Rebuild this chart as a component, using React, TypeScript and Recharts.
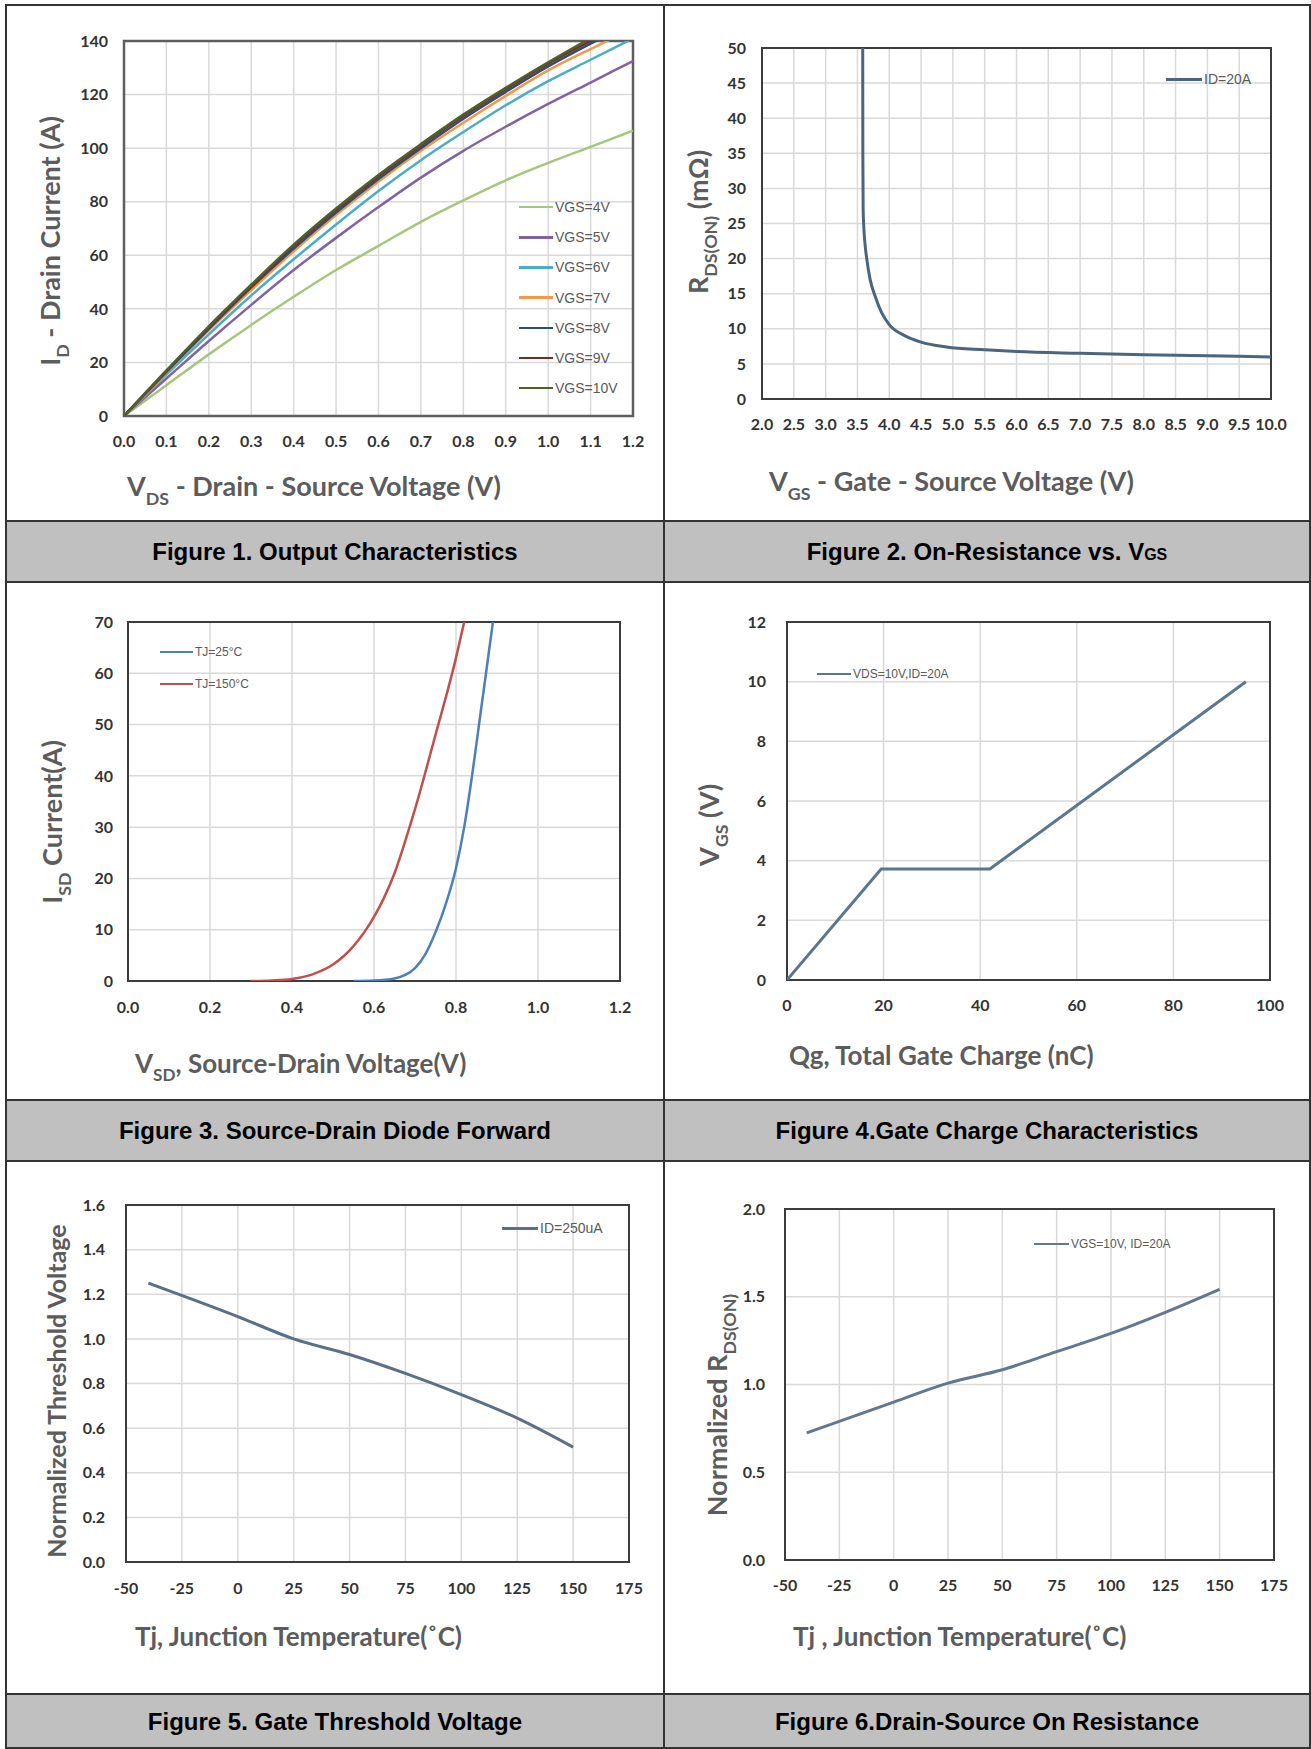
import React from 'react';
import { LineChart, Line, XAxis, YAxis, CartesianGrid, ReferenceArea, Legend } from 'recharts';

// ---------------- Figure 1: Output Characteristics ----------------
const fig1Vds = [0, 0.1, 0.2, 0.3, 0.4, 0.5, 0.6, 0.7, 0.8, 0.9, 1.0, 1.1, 1.2];
const fig1Id4 = [0, 11.5, 23, 34, 44.5, 54.5, 63.5, 72.5, 80.5, 88, 94.5, 100.5, 106.5];
const fig1Id5 = [0, 14, 28, 41.5, 54.5, 66.5, 78, 89, 99, 108, 116.5, 124.5, 132.5];
const fig1Id6 = [0, 15.5, 30.5, 45, 58.5, 71.5, 84, 95.5, 106, 116, 125, 133, 141];
const fig1Id7 = [0, 16.2, 32, 47, 61.5, 75, 87.5, 99, 109.5, 119.5, 129, 137, 144.5];
const fig1Id8 = [0, 16.5, 32.5, 48, 62.5, 76, 88.5, 100, 111, 121, 130.5, 139, 147];
const fig1Id9 = [0, 16.8, 33, 48.5, 63.5, 77, 89.5, 101, 112, 122, 131.5, 140, 148];
const fig1Id10 = [0, 17, 33.5, 49, 64, 77.5, 90, 101.5, 112.5, 122.5, 132, 141, 149];
const fig1Names = ['VGS=4V', 'VGS=5V', 'VGS=6V', 'VGS=7V', 'VGS=8V', 'VGS=9V', 'VGS=10V'];
const fig1Colors = ['#a9c47c', '#8064a2', '#4bacc6', '#f79646', '#2c4d75', '#772c2a', '#4f5f2a'];
const fig1XTicks = [0, 0.1, 0.2, 0.3, 0.4, 0.5, 0.6, 0.7, 0.8, 0.9, 1.0, 1.1, 1.2];
const fig1YTicks = [0, 20, 40, 60, 80, 100, 120, 140];

// ---------------- Figure 2: On-Resistance vs VGS ----------------
const fig2Vgs = [3.583, 3.585, 3.59, 3.6, 3.62, 3.646, 3.7, 3.78, 3.88, 4.0, 4.25, 4.5, 4.9, 5.5, 6.0, 7.0, 8.0, 9.0, 10.0];
const fig2Rds = [50, 35, 27, 24.5, 22, 20, 17, 14.6, 12.3, 10.6, 9.0, 8.1, 7.4, 7.0, 6.75, 6.5, 6.3, 6.15, 6.0];
const fig2Name = 'ID=20A';
const fig2Color = '#4a6580';
const fig2XTicks = [2, 2.5, 3, 3.5, 4, 4.5, 5, 5.5, 6, 6.5, 7, 7.5, 8, 8.5, 9, 9.5, 10];
const fig2YTicks = [0, 5, 10, 15, 20, 25, 30, 35, 40, 45, 50];

// ---------------- Figure 3: Source-Drain Diode Forward ----------------
const fig3Vsd25 = [0.55, 0.6, 0.65, 0.7, 0.725, 0.75, 0.775, 0.8, 0.82, 0.84, 0.857, 0.874, 0.89];
const fig3Isd25 = [0, 0.1, 0.5, 2.5, 5.2, 9.5, 15, 22, 30, 40.5, 50.5, 60.5, 70];
const fig3Vsd150 = [0.3, 0.35, 0.4, 0.45, 0.5, 0.55, 0.6, 0.625, 0.65, 0.675, 0.7, 0.75, 0.8, 0.82];
const fig3Isd150 = [0, 0.1, 0.4, 1.3, 3.2, 6.8, 12.5, 16.3, 21, 27, 33.5, 48, 63, 70];
const fig3Names = ['TJ=25\u00B0C', 'TJ=150\u00B0C'];
const fig3Colors = ['#4f7fb8', '#c0504d'];
const fig3XTicks = [0, 0.2, 0.4, 0.6, 0.8, 1.0, 1.2];
const fig3YTicks = [0, 10, 20, 30, 40, 50, 60, 70];

// ---------------- Figure 4: Gate Charge ----------------
const fig4Qg = [0, 19.5, 42, 95];
const fig4Vgs = [0, 3.72, 3.72, 10];
const fig4Name = 'VDS=10V,ID=20A';
const fig4Color = '#5b778f';
const fig4XTicks = [0, 20, 40, 60, 80, 100];
const fig4YTicks = [0, 2, 4, 6, 8, 10, 12];

// ---------------- Figure 5: Gate Threshold Voltage ----------------
const fig5Tj = [-40, 0, 25, 50, 75, 100, 125, 150];
const fig5Vth = [1.25, 1.1, 1.0, 0.93, 0.845, 0.75, 0.645, 0.515];
const fig5Name = 'ID=250uA';
const fig5Color = '#5a7088';
const fig5XTicks = [-50, -25, 0, 25, 50, 75, 100, 125, 150, 175];
const fig5YTicks = [0, 0.2, 0.4, 0.6, 0.8, 1.0, 1.2, 1.4, 1.6];

// ---------------- Figure 6: Drain-Source On Resistance ----------------
const fig6Tj = [-40, 0, 25, 50, 75, 100, 125, 150];
const fig6Rds = [0.724, 0.9, 1.008, 1.084, 1.187, 1.291, 1.411, 1.542];
const fig6Name = 'VGS=10V, ID=20A';
const fig6Color = '#62788e';
const fig6XTicks = [-50, -25, 0, 25, 50, 75, 100, 125, 150, 175];
const fig6YTicks = [0, 0.5, 1.0, 1.5, 2.0];

// ---------------- data tables ----------------
const fig1Data = fig1Vds.map((x, i) => ({
  x, id4: fig1Id4[i], id5: fig1Id5[i], id6: fig1Id6[i], id7: fig1Id7[i],
  id8: fig1Id8[i], id9: fig1Id9[i], id10: fig1Id10[i],
}));
const fig1Keys = ['id4', 'id5', 'id6', 'id7', 'id8', 'id9', 'id10'];
const fig2Data = fig2Vgs.map((x, i) => ({ x, y: fig2Rds[i] }));
const fig3Data25 = fig3Vsd25.map((x, i) => ({ x, y: fig3Isd25[i] }));
const fig3Data150 = fig3Vsd150.map((x, i) => ({ x, y: fig3Isd150[i] }));
const fig4Data = fig4Qg.map((x, i) => ({ x, y: fig4Vgs[i] }));
const fig5Data = fig5Tj.map((x, i) => ({ x, y: fig5Vth[i] }));
const fig6Data = fig6Tj.map((x, i) => ({ x, y: fig6Rds[i] }));

// ---------------- layout ----------------
type Cell = { x: number; y: number; w: number; h: number };
type Plot = { L: number; T: number; R: number; B: number };
const YW = 50;
const XH = 40;
const C1: Cell = { x: 6, y: 5, w: 658, h: 516 };
const C2: Cell = { x: 664, y: 5, w: 646, h: 516 };
const C3: Cell = { x: 6, y: 582, w: 658, h: 518 };
const C4: Cell = { x: 664, y: 582, w: 646, h: 518 };
const C5: Cell = { x: 6, y: 1161, w: 658, h: 533 };
const C6: Cell = { x: 664, y: 1161, w: 646, h: 533 };
const P1: Plot = { L: 124, T: 41, R: 633, B: 416 };
const P2: Plot = { L: 762, T: 48, R: 1271, B: 399 };
const P3: Plot = { L: 128, T: 622, R: 620, B: 981 };
const P4: Plot = { L: 787, T: 622, R: 1270, B: 980 };
const P5: Plot = { L: 126, T: 1205, R: 629, B: 1562 };
const P6: Plot = { L: 785, T: 1209, R: 1274, B: 1560 };

const marginsFor = (c: Cell, p: Plot) => ({
  left: p.L - c.x - YW,
  top: p.T - c.y,
  right: c.x + c.w - p.R,
  bottom: c.y + c.h - p.B - XH,
});

const tickFont = { fill: '#333333', fontSize: 16, fontFamily: 'Lato, "DejaVu Sans", sans-serif', fontWeight: 700 };
const GRID = '#d9d9d9';
const BORDER = '#3c3c3c';
const TITLE_COLOR = '#5c5c5c';

const fmt1 = (v: number) => v.toFixed(1);
const fmt0 = (v: number) => String(v);

function xAxisEl(domain: number[], ticks: number[], f: (v: number) => string, tm: number) {
  return (
    <XAxis key="xa" type="number" dataKey="x" domain={domain} ticks={ticks} interval={0} allowDataOverflow
      height={XH} tickLine={false} axisLine={false} tickSize={0} tickMargin={tm} tick={tickFont} tickFormatter={f} />
  );
}
function yAxisEl(domain: number[], ticks: number[], f: (v: number) => string, tm: number) {
  return (
    <YAxis key="ya" type="number" domain={domain} ticks={ticks} interval={0} allowDataOverflow
      width={YW} tickLine={false} axisLine={false} tickSize={0} tickMargin={tm} tick={tickFont} tickFormatter={f} />
  );
}
function gridEl() {
  return <CartesianGrid key="grid" stroke={GRID} strokeWidth={1.5} />;
}
function borderEl(xd: number[], yd: number[], color = BORDER, w = 2) {
  return <ReferenceArea key="border" x1={xd[0]} x2={xd[1]} y1={yd[0]} y2={yd[1]} fill="none" fillOpacity={0} stroke={color} strokeWidth={w} ifOverflow="visible" />;
}

type LegendItem = { name: string; color: string };
type LegendGeo = { x: number; top: number; rowH: number; lineLen: number; gap: number; fontSize: number; lineW: number };
function legendEl(cell: Cell, geo: LegendGeo, items: LegendItem[]) {
  const content = () => (
    <div>
      {items.map((e, i) => (
        <div key={i} style={{ display: 'flex', alignItems: 'center', height: geo.rowH }}>
          <div style={{ width: geo.lineLen, height: geo.lineW, background: e.color }} />
          <span style={{ marginLeft: geo.gap, fontSize: geo.fontSize, lineHeight: 1, color: '#5a5a5a', fontFamily: '"Liberation Sans", Arial, sans-serif', whiteSpace: 'nowrap' }}>{e.name}</span>
        </div>
      ))}
    </div>
  );
  return (
    <Legend key="legend" layout="vertical" align="center" verticalAlign="middle" content={content}
      wrapperStyle={{ left: geo.x - cell.x, top: geo.top - cell.y, width: 240, height: 'auto', margin: 0 }} />
  );
}

type Part = { t: string; sub?: boolean };
function AxisTitle({ cell, x, y, parts, size, vertical }: { cell: Cell; x: number; y: number; parts: Part[]; size: number; vertical?: boolean }) {
  const cx = x - cell.x;
  const cy = y - cell.y;
  const off = size * 0.3;
  let shifted = false;
  const spans = parts.map((p, i) => {
    let dy = 0;
    if (p.sub && !shifted) { dy = off; shifted = true; }
    else if (!p.sub && shifted) { dy = -off; shifted = false; }
    return <tspan key={i} dy={dy} fontSize={p.sub ? size * 0.66 : size}>{p.t}</tspan>;
  });
  const by = cy + size * 0.35;
  return (
    <text x={cx} y={by} textAnchor={vertical ? 'middle' : 'start'} fill={TITLE_COLOR}
      fontFamily='Lato, "DejaVu Sans", sans-serif' fontWeight={700} fontSize={size}
      transform={vertical ? `rotate(-90 ${cx} ${cy})` : undefined}>
      {spans}
    </text>
  );
}

function Fig1() {
  const c = C1;
  return (
    <div style={{ position: 'absolute', left: c.x, top: c.y }}>
      <LineChart width={c.w} height={c.h} data={fig1Data} margin={marginsFor(c, P1)}>
        {gridEl()}
        {xAxisEl([0, 1.2], fig1XTicks, fmt1, 20)}
        {yAxisEl([0, 140], fig1YTicks, fmt0, 16)}
        {borderEl([0, 1.2], [0, 140], '#5e5e5e', 2.5)}
        {fig1Keys.map((k, i) => (
          <Line key={k} type="monotone" dataKey={k} name={fig1Names[i]} stroke={fig1Colors[i]} strokeWidth={2.5}
            dot={false} activeDot={false} isAnimationActive={false} />
        ))}
        {legendEl(c, { x: 519, top: 192, rowH: 30.2, lineLen: 34, gap: 2, fontSize: 14, lineW: 2.5 },
          fig1Names.map((n, i) => ({ name: n, color: fig1Colors[i] })))}
        <AxisTitle cell={c} x={127} y={487} size={27} parts={[{ t: 'V' }, { t: 'DS', sub: true }, { t: ' - Drain - Source Voltage (V)' }]} />
        <AxisTitle cell={c} x={51} y={241} size={27} vertical parts={[{ t: 'I' }, { t: 'D', sub: true }, { t: ' - Drain Current (A)' }]} />
      </LineChart>
    </div>
  );
}

function Fig2() {
  const c = C2;
  return (
    <div style={{ position: 'absolute', left: c.x, top: c.y }}>
      <LineChart width={c.w} height={c.h} data={fig2Data} margin={marginsFor(c, P2)}>
        {gridEl()}
        {xAxisEl([2, 10], fig2XTicks, fmt1, 20)}
        {yAxisEl([0, 50], fig2YTicks, fmt0, 16)}
        {borderEl([2, 10], [0, 50])}
        <Line type="monotone" dataKey="y" name={fig2Name} stroke={fig2Color} strokeWidth={3}
          dot={false} activeDot={false} isAnimationActive={false} />
        {legendEl(c, { x: 1166, top: 64, rowH: 30, lineLen: 36, gap: 2, fontSize: 14, lineW: 3 },
          [{ name: fig2Name, color: fig2Color }])}
        <AxisTitle cell={c} x={769} y={482} size={27} parts={[{ t: 'V' }, { t: 'GS', sub: true }, { t: ' - Gate - Source Voltage (V)' }]} />
        <AxisTitle cell={c} x={699} y={222} size={27} vertical parts={[{ t: 'R' }, { t: 'DS(ON)', sub: true }, { t: ' (m\u03A9)' }]} />
      </LineChart>
    </div>
  );
}

function Fig3() {
  const c = C3;
  return (
    <div style={{ position: 'absolute', left: c.x, top: c.y }}>
      <LineChart width={c.w} height={c.h} margin={marginsFor(c, P3)}>
        {gridEl()}
        {xAxisEl([0, 1.2], fig3XTicks, fmt1, 21)}
        {yAxisEl([0, 70], fig3YTicks, fmt0, 15)}
        {borderEl([0, 1.2], [0, 70])}
        <Line data={fig3Data25} type="monotone" dataKey="y" name={fig3Names[0]} stroke={fig3Colors[0]} strokeWidth={2.5}
          dot={false} activeDot={false} isAnimationActive={false} />
        <Line data={fig3Data150} type="monotone" dataKey="y" name={fig3Names[1]} stroke={fig3Colors[1]} strokeWidth={2.5}
          dot={false} activeDot={false} isAnimationActive={false} />
        {legendEl(c, { x: 160, top: 636, rowH: 32, lineLen: 33, gap: 2, fontSize: 12, lineW: 2.5 },
          fig3Names.map((n, i) => ({ name: n, color: fig3Colors[i] })))}
        <AxisTitle cell={c} x={135} y={1064} size={26} parts={[{ t: 'V' }, { t: 'SD', sub: true }, { t: ', Source-Drain Voltage(V)' }]} />
        <AxisTitle cell={c} x={53} y={822} size={27} vertical parts={[{ t: 'I' }, { t: 'SD', sub: true }, { t: ' Current(A)' }]} />
      </LineChart>
    </div>
  );
}

function Fig4() {
  const c = C4;
  return (
    <div style={{ position: 'absolute', left: c.x, top: c.y }}>
      <LineChart width={c.w} height={c.h} data={fig4Data} margin={marginsFor(c, P4)}>
        {gridEl()}
        {xAxisEl([0, 100], fig4XTicks, fmt0, 20)}
        {yAxisEl([0, 12], fig4YTicks, fmt0, 21)}
        {borderEl([0, 100], [0, 12])}
        <Line type="linear" dataKey="y" name={fig4Name} stroke={fig4Color} strokeWidth={3}
          dot={false} activeDot={false} isAnimationActive={false} />
        {legendEl(c, { x: 817, top: 659, rowH: 30, lineLen: 34, gap: 2, fontSize: 12, lineW: 2.5 },
          [{ name: fig4Name, color: fig4Color }])}
        <AxisTitle cell={c} x={789} y={1056} size={26} parts={[{ t: 'Qg, Total Gate Charge (nC)' }]} />
        <AxisTitle cell={c} x={710} y={825} size={27} vertical parts={[{ t: 'V' }, { t: 'GS', sub: true }, { t: ' (V)' }]} />
      </LineChart>
    </div>
  );
}

function Fig5() {
  const c = C5;
  return (
    <div style={{ position: 'absolute', left: c.x, top: c.y }}>
      <LineChart width={c.w} height={c.h} data={fig5Data} margin={marginsFor(c, P5)}>
        {gridEl()}
        {xAxisEl([-50, 175], fig5XTicks, fmt0, 21)}
        {yAxisEl([0, 1.6], fig5YTicks, fmt1, 21)}
        {borderEl([-50, 175], [0, 1.6])}
        <Line type="monotone" dataKey="y" name={fig5Name} stroke={fig5Color} strokeWidth={3}
          dot={false} activeDot={false} isAnimationActive={false} />
        {legendEl(c, { x: 502, top: 1213, rowH: 30, lineLen: 36, gap: 2, fontSize: 14, lineW: 3 },
          [{ name: fig5Name, color: fig5Color }])}
        <AxisTitle cell={c} x={135} y={1637} size={26} parts={[{ t: 'Tj, Junction Temperature(\u02DAC)' }]} />
        <AxisTitle cell={c} x={57} y={1391} size={25} vertical parts={[{ t: 'Normalized Threshold Voltage' }]} />
      </LineChart>
    </div>
  );
}

function Fig6() {
  const c = C6;
  return (
    <div style={{ position: 'absolute', left: c.x, top: c.y }}>
      <LineChart width={c.w} height={c.h} data={fig6Data} margin={marginsFor(c, P6)}>
        {gridEl()}
        {xAxisEl([-50, 175], fig6XTicks, fmt0, 20)}
        {yAxisEl([0, 2], fig6YTicks, fmt1, 20)}
        {borderEl([-50, 175], [0, 2])}
        <Line type="monotone" dataKey="y" name={fig6Name} stroke={fig6Color} strokeWidth={3}
          dot={false} activeDot={false} isAnimationActive={false} />
        {legendEl(c, { x: 1034, top: 1229, rowH: 30, lineLen: 35, gap: 2, fontSize: 12, lineW: 2.5 },
          [{ name: fig6Name, color: fig6Color }])}
        <AxisTitle cell={c} x={793} y={1637} size={26} parts={[{ t: 'Tj , Junction Temperature(\u02DAC)' }]} />
        <AxisTitle cell={c} x={718} y={1405} size={27} vertical parts={[{ t: 'Normalized R' }, { t: 'DS(ON)', sub: true }]} />
      </LineChart>
    </div>
  );
}

const LINE = '#333333';
const CAPTION_BG = '#c0c0c0';

function Caption({ x, y, w, h, children }: { x: number; y: number; w: number; h: number; children: React.ReactNode }) {
  return (
    <div style={{
      position: 'absolute', left: x, top: y, width: w, height: h, display: 'flex', alignItems: 'center',
      justifyContent: 'center', fontFamily: '"Liberation Sans", Arial, sans-serif', fontWeight: 700, fontSize: 24, color: '#000',
    }}>{children}</div>
  );
}

export default function App() {
  const hLines = [521, 582, 1100, 1161, 1694];
  return (
    <div style={{ position: 'absolute', left: 0, top: 0, width: 1311, height: 1749, background: '#fff', overflow: 'hidden' }}>
      {/* caption backgrounds */}
      <div style={{ position: 'absolute', left: 5, top: 521, width: 1306, height: 61, background: CAPTION_BG }} />
      <div style={{ position: 'absolute', left: 5, top: 1100, width: 1306, height: 61, background: CAPTION_BG }} />
      <div style={{ position: 'absolute', left: 5, top: 1694, width: 1306, height: 55, background: CAPTION_BG }} />

      <Fig1 />
      <Fig2 />
      <Fig3 />
      <Fig4 />
      <Fig5 />
      <Fig6 />

      <Caption x={6} y={521} w={658} h={61}>Figure 1. Output Characteristics</Caption>
      <Caption x={664} y={521} w={646} h={61}>Figure 2. On-Resistance vs. V<span style={{ fontSize: 16, position: 'relative', top: 3 }}>GS</span></Caption>
      <Caption x={6} y={1100} w={658} h={61}>Figure 3. Source-Drain Diode Forward</Caption>
      <Caption x={664} y={1100} w={646} h={61}>Figure 4.Gate Charge Characteristics</Caption>
      <Caption x={6} y={1694} w={658} h={55}>Figure 5. Gate Threshold Voltage</Caption>
      <Caption x={664} y={1694} w={646} h={55}>Figure 6.Drain-Source On Resistance</Caption>

      {/* table rules */}
      <div style={{ position: 'absolute', left: 5, top: 4, width: 1306, height: 1745, border: `2px solid ${LINE}`, boxSizing: 'border-box' }} />
      <div style={{ position: 'absolute', left: 663, top: 4, width: 2, height: 1745, background: LINE }} />
      {hLines.map((y) => (
        <div key={y} style={{ position: 'absolute', left: 5, top: y - 1, width: 1306, height: 2, background: LINE }} />
      ))}
    </div>
  );
}
